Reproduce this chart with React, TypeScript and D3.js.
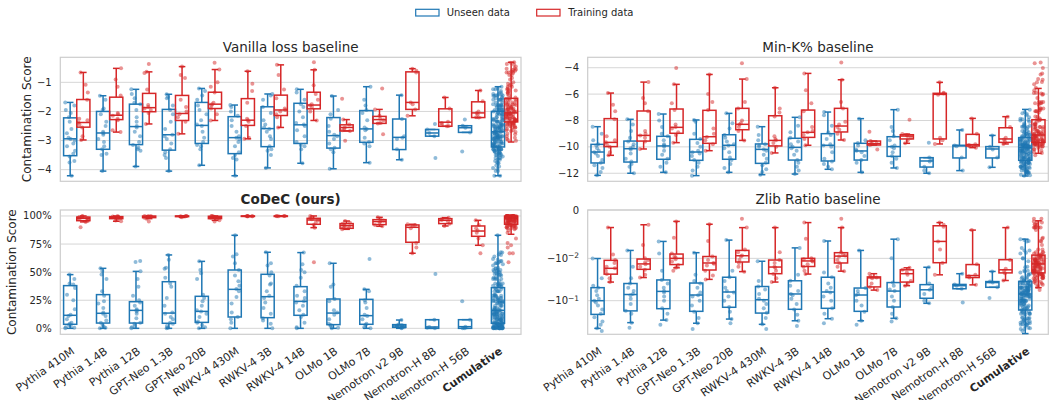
import React from 'react';
import * as d3 from 'd3';

const MODELS = [
  'Pythia 410M', 'Pythia 1.4B', 'Pythia 12B', 'GPT-Neo 1.3B', 'GPT-Neo 20B',
  'RWKV-4 430M', 'RWKV-4 3B', 'RWKV-4 14B', 'OLMo 1B', 'OLMo 7B',
  'Nemotron v2 9B', 'Nemotron-H 8B', 'Nemotron-H 56B',
];
const CATEGORIES = [...MODELS, 'Cumulative'];

const BLUE = '#1f77b4';
const RED = '#d62728';
const FONT = 'DejaVu Sans, Verdana, sans-serif';

// box stats per category: [lower whisker, q1, median, q3, upper whisker]
const vanillaUnseenStats = [
  [-4.21, -3.52, -2.94, -2.22, -1.69], [-4.05, -3.3, -2.74, -2.0, -1.46], [-3.89, -3.14, -2.52, -1.75, -1.24],
  [-4.05, -3.33, -2.8, -1.93, -1.41], [-3.85, -3.1, -2.48, -1.69, -1.21], [-4.21, -3.45, -2.9, -2.18, -1.78],
  [-3.94, -3.21, -2.59, -1.84, -1.4], [-3.78, -3.1, -2.46, -1.72, -1.24], [-3.97, -3.26, -2.83, -2.21, -1.47],
  [-3.76, -3.06, -2.6, -1.97, -1.15], [-3.66, -3.31, -2.89, -2.26, -1.44], [-2.85, -2.85, -2.74, -2.62, -2.62],
  [-2.72, -2.72, -2.56, -2.49, -2.49], [-4.21, -3.22, -2.7, -2.0, -1.15],
];
const vanillaTrainStats = [
  [-2.98, -2.54, -2.38, -1.59, -0.66], [-2.71, -2.28, -2.13, -1.51, -0.52], [-2.43, -2.01, -1.87, -1.38, -0.64],
  [-2.77, -2.31, -2.07, -1.45, -0.46], [-2.31, -1.9, -1.75, -1.34, -0.56], [-2.94, -2.48, -2.3, -1.56, -0.62],
  [-2.55, -2.14, -1.95, -1.44, -0.4], [-2.31, -1.91, -1.78, -1.34, -0.57], [-2.67, -2.67, -2.55, -2.46, -2.28],
  [-2.41, -2.41, -2.28, -2.17, -1.93], [-2.15, -1.93, -1.69, -0.64, -0.53], [-2.51, -2.51, -2.37, -1.91, -1.52],
  [-2.21, -2.21, -2.05, -1.67, -1.28], [-3.05, -2.36, -2.05, -1.55, -0.31],
];
const vanillaUnseenPts = [
  [-1.69, -1.8, -1.95, -2.05, -2.2, -2.35, -2.6, -2.75, -2.9, -2.95, -3.0, -3.1, -3.2, -3.35, -3.45, -3.55, -3.7, -3.75, -4.21],
  [-1.46, -1.6, -1.9, -1.95, -2.1, -2.35, -2.5, -2.7, -2.75, -2.8, -2.95, -3.05, -3.2, -3.3, -3.45, -3.5, -4.05],
  [-1.24, -1.4, -1.55, -1.7, -1.75, -1.95, -2.2, -2.35, -2.5, -2.55, -2.7, -2.85, -3.05, -3.15, -3.25, -3.3, -3.35, -3.89],
  [-1.41, -1.5, -1.55, -1.8, -1.95, -2.1, -2.35, -2.6, -2.8, -2.85, -2.95, -3.1, -3.3, -3.4, -3.5, -3.6, -4.05],
  [-1.21, -1.3, -1.45, -1.6, -1.8, -1.95, -2.1, -2.3, -2.45, -2.5, -2.7, -2.9, -3.05, -3.15, -3.2, -3.3, -3.85],
  [-1.78, -1.85, -2.0, -2.15, -2.3, -2.5, -2.7, -2.85, -2.9, -2.95, -3.05, -3.2, -3.4, -3.5, -3.6, -3.65, -4.21],
  [-1.4, -1.45, -1.6, -1.85, -2.05, -2.3, -2.45, -2.55, -2.6, -2.7, -2.85, -2.95, -3.2, -3.3, -3.35, -3.5, -3.94],
  [-1.24, -1.35, -1.6, -1.75, -1.85, -2.0, -2.2, -2.4, -2.45, -2.5, -2.65, -2.85, -3.05, -3.15, -3.2, -3.3, -3.78],
  [-1.47, -1.95, -2.1, -2.25, -2.5, -2.7, -2.8, -2.85, -2.95, -3.1, -3.25, -3.3, -3.4, -3.97],
  [-1.15, -1.6, -1.8, -1.95, -2.05, -2.3, -2.55, -2.6, -2.65, -2.9, -3.05, -3.1, -3.2, -3.76],
  [-1.44, -2.26, -2.85, -2.9, -2.95, -3.3, -3.66],
  [-2.43, -2.62, -2.74, -2.85, -3.6],
  [-2.28, -2.49, -2.56, -2.72, -3.38],
];
const vanillaTrainPts = [
  [-0.66, -1.08, -1.35, -1.6, -2.25, -2.3, -2.38, -2.45, -2.55, -2.85, -2.98],
  [-0.52, -0.9, -1.15, -1.45, -2.05, -2.1, -2.15, -2.25, -2.3, -2.65, -2.71],
  [-0.37, -0.64, -0.68, -1.25, -1.78, -1.85, -1.9, -1.95, -2.05, -2.43],
  [-0.46, -0.75, -0.85, -1.6, -1.85, -2.0, -2.1, -2.2, -2.35, -2.77],
  [-0.33, -0.56, -1.0, -1.15, -1.35, -1.7, -1.75, -1.8, -1.9, -2.1, -2.31],
  [-0.62, -1.05, -1.3, -1.7, -2.25, -2.3, -2.35, -2.5, -2.9, -2.94],
  [-0.4, -0.75, -1.25, -1.55, -1.9, -1.95, -2.0, -2.1, -2.2, -2.55],
  [-0.31, -0.57, -1.1, -1.4, -1.6, -1.75, -1.8, -1.85, -2.0, -2.31],
  [-1.56, -2.28, -2.45, -2.55, -2.6, -2.65, -2.67, -3.01],
  [-1.21, -1.93, -2.15, -2.25, -2.3, -2.4, -2.41, -2.78],
  [-0.53, -0.6, -0.66, -1.69, -1.75, -1.93, -2.15],
  [-1.52, -1.9, -2.35, -2.4, -2.45, -2.5, -2.51],
  [-1.28, -1.65, -2.0, -2.05, -2.1, -2.2, -2.21],
];

const codecUnseenStats = [
  [0, 3.6, 11.6, 38.0, 47.8], [0, 4.7, 13.4, 30.0, 53.4], [0, 4.7, 16.0, 23.7, 50.7], [0, 4.5, 13.6, 41.5, 65.3],
  [0, 5.3, 15.1, 28.5, 59.6], [0, 10.1, 34.7, 51.9, 82.8], [0, 9.5, 28.2, 48.1, 67.7], [0, 11.6, 24.0, 37.1, 67.4],
  [0, 3.3, 13.6, 26.1, 57.9], [0, 3.6, 11.3, 25.8, 34.7], [0, 0.9, 2.1, 3.3, 7.4], [0, 0, 1.2, 7.7, 7.7],
  [0, 0, 1.5, 7.7, 7.7], [0, 4.5, 16.0, 36.2, 82.8],
];
const codecTrainStats = [
  [94.7, 95.8, 97.9, 99.0, 100], [95.3, 97.6, 98.5, 99.4, 100], [97.6, 98.5, 99.4, 99.9, 100], [98.8, 99.4, 99.7, 100, 100],
  [96.1, 97.6, 98.8, 99.7, 100], [99.5, 99.7, 99.8, 100, 100], [99.7, 99.8, 99.9, 100, 100], [89.6, 92.6, 96.4, 97.9, 100],
  [88.1, 89.0, 91.4, 93.2, 95.5], [90.8, 92.3, 95.0, 96.7, 98.8], [66.8, 76.6, 89.9, 92.0, 92.6], [91.1, 93.2, 96.1, 97.6, 98.5],
  [73.9, 81.9, 86.6, 91.1, 96.1], [83.7, 92.6, 97.9, 99.9, 100],
];
const codecUnseenPts = [
  [0, 0.5, 1, 2, 3, 4, 5, 8, 11, 12, 17, 25, 30, 36, 39, 40, 44, 47.8],
  [0, 0.5, 1.5, 3, 5, 7, 11, 13, 14, 18, 22, 24, 29, 33, 44, 48, 51, 53.4],
  [0, 1, 2, 4, 5, 9, 13, 15, 16, 17, 20, 23, 25, 29, 37, 44, 50.7, 59, 60],
  [0, 0.5, 2, 4, 5, 8, 10, 13, 14, 20, 27, 37, 40, 45, 53, 54, 61, 65.3],
  [0, 1, 3, 5, 6, 10, 13, 15, 16, 20, 24, 27, 30, 44, 49, 52, 59.6],
  [0, 5, 8, 10, 14, 22, 28, 33, 35, 38, 42, 47, 52, 58, 64, 66, 82.8],
  [0, 4, 7, 9, 13, 18, 23, 27, 29, 33, 39, 40, 47, 50, 56, 58, 67.7],
  [0, 1, 5, 10, 12, 16, 20, 23, 24, 27, 29, 33, 38, 45, 50, 52, 57, 67.4],
  [0, 0.5, 2, 3, 4, 8, 12, 14, 16, 24, 26, 37, 39, 57.9],
  [0, 1, 3, 4, 8, 11, 12, 18, 23, 25, 33, 34.7, 61.7],
  [0, 0.5, 1, 1.5, 2, 2.5, 3, 3.5, 7.4],
  [0, 0.5, 1.2, 7.7, 48.4],
  [0, 0, 1.5, 7.7, 24],
];
const codecTrainPts = [
  [89.9, 94.7, 95.5, 96, 97, 98, 98.5, 99, 99.5, 100],
  [95.3, 96, 97.5, 98, 98.5, 99, 99.5, 100],
  [95, 97.6, 98.5, 99, 99.5, 99.8, 100, 100],
  [98.8, 99.3, 99.6, 99.8, 100, 100],
  [95, 96.1, 97.5, 98.5, 99, 99.5, 100, 100],
  [99.5, 99.7, 99.8, 99.9, 100, 100],
  [99.7, 99.8, 99.9, 100, 100],
  [58.8, 89.6, 92, 94, 96, 97, 98, 99, 100],
  [88.1, 89, 90, 91, 92, 93, 94, 95.5],
  [90.8, 92, 94, 95, 96, 97.5, 98.8],
  [66.8, 72, 76, 89, 91, 92, 92.6],
  [91.1, 93, 95, 96.5, 97.5, 98.5],
  [66.8, 73.9, 80, 85, 87, 89, 92, 96.1],
];

const minkUnseenStats = [
  [-12.16, -11.22, -10.39, -9.81, -8.47], [-12.0, -11.15, -10.14, -9.56, -7.91], [-11.93, -10.94, -9.93, -9.2, -7.51],
  [-12.18, -11.02, -10.39, -9.43, -7.96], [-11.93, -10.94, -9.88, -9.08, -7.46], [-12.11, -11.25, -10.19, -9.78, -8.47],
  [-12.06, -11.0, -10.04, -9.35, -7.76], [-11.7, -11.07, -9.88, -9.0, -7.36], [-11.93, -11.0, -10.31, -9.73, -7.86],
  [-11.6, -10.72, -9.98, -9.23, -7.18], [-12.0, -11.53, -11.07, -10.82, -10.82], [-11.8, -10.84, -9.93, -9.88, -8.72],
  [-11.55, -10.84, -10.16, -9.98, -9.13], [-12.21, -11.02, -10.06, -9.3, -7.16],
];
const minkTrainStats = [
  [-10.64, -9.98, -9.66, -7.86, -5.92], [-10.16, -9.56, -9.13, -7.28, -5.09], [-9.68, -8.97, -8.52, -7.13, -5.26],
  [-10.29, -9.73, -9.23, -7.23, -4.51], [-9.51, -8.7, -8.29, -7.08, -4.86], [-10.46, -9.93, -9.51, -7.64, -5.52],
  [-9.88, -9.28, -8.9, -7.21, -4.43], [-9.48, -8.87, -8.42, -7.08, -4.91], [-9.86, -9.86, -9.76, -9.56, -9.56],
  [-9.73, -9.4, -9.18, -9.08, -9.03], [-9.78, -9.4, -6.02, -5.94, -5.11], [-10.06, -9.93, -9.83, -9.05, -7.84],
  [-9.78, -9.66, -9.4, -8.55, -7.71], [-10.49, -9.66, -9.1, -7.94, -5.57],
];
const minkUnseenPts = [
  [-8.47, -9.0, -9.5, -9.8, -9.9, -10.1, -10.3, -10.4, -10.5, -10.7, -11.0, -11.2, -11.4, -11.6, -11.9, -12.16],
  [-7.91, -8.3, -8.8, -9.3, -9.6, -9.8, -10.0, -10.1, -10.2, -10.5, -10.9, -11.1, -11.3, -11.5, -12.0],
  [-7.51, -8.0, -8.5, -9.0, -9.2, -9.5, -9.8, -9.9, -10.0, -10.3, -10.6, -10.9, -11.2, -11.5, -11.93],
  [-7.96, -8.1, -9.0, -9.4, -9.7, -10.0, -10.3, -10.4, -10.5, -10.7, -11.0, -11.2, -11.5, -11.8, -12.18],
  [-7.46, -8.2, -8.6, -9.1, -9.3, -9.6, -9.8, -9.9, -10.1, -10.4, -10.8, -11.0, -11.3, -11.6, -11.93],
  [-8.47, -9.1, -9.5, -9.8, -9.9, -10.0, -10.2, -10.3, -10.6, -10.9, -11.2, -11.4, -11.7, -11.9, -12.11],
  [-7.76, -8.4, -8.9, -9.3, -9.6, -9.8, -10.0, -10.1, -10.3, -10.6, -11.0, -11.2, -11.5, -11.8, -12.06],
  [-7.36, -7.6, -8.4, -8.9, -9.1, -9.4, -9.8, -9.9, -10.0, -10.4, -10.9, -11.1, -11.3, -11.5, -11.7],
  [-7.86, -9.5, -9.7, -9.9, -10.2, -10.3, -10.4, -10.7, -11.0, -11.2, -11.93],
  [-7.18, -8.5, -8.8, -9.2, -9.5, -9.9, -10.0, -10.1, -10.4, -10.7, -10.9, -11.2, -11.6],
  [-9.68, -10.8, -10.9, -11.1, -11.5, -11.8, -12.0],
  [-8.72, -9.9, -9.95, -10.8, -11.8],
  [-9.13, -10.0, -10.2, -10.8, -11.55],
];
const minkTrainPts = [
  [-5.92, -6.8, -7.3, -7.9, -9.2, -9.5, -9.65, -9.8, -10.0, -10.4, -10.64],
  [-5.09, -6.3, -6.7, -7.3, -8.8, -9.0, -9.13, -9.3, -9.6, -10.16],
  [-4.02, -5.26, -6.7, -7.2, -8.3, -8.5, -8.6, -8.9, -9.1, -9.68],
  [-4.51, -6.0, -6.6, -7.2, -8.6, -9.0, -9.25, -9.5, -9.8, -10.29],
  [-3.66, -4.86, -6.6, -7.1, -8.0, -8.2, -8.3, -8.5, -8.8, -9.51],
  [-5.52, -7.1, -7.4, -7.7, -9.2, -9.4, -9.5, -9.7, -10.0, -10.46],
  [-4.43, -5.7, -6.7, -7.3, -8.5, -8.8, -8.9, -9.1, -9.4, -9.88],
  [-3.6, -4.91, -6.6, -7.1, -8.1, -8.3, -8.5, -8.7, -9.0, -9.48],
  [-8.85, -9.56, -9.7, -9.76, -9.8, -9.86, -10.19],
  [-7.94, -9.03, -9.1, -9.18, -9.3, -9.5, -9.73],
  [-5.11, -5.9, -5.95, -6.05, -9.3, -9.5, -9.78],
  [-7.84, -9.0, -9.8, -9.85, -9.95, -10.06],
  [-7.71, -8.5, -9.3, -9.45, -9.6, -9.78],
];

const zlibUnseenStats = [
  [-0.433, -0.207, -0.1, -0.05, -0.0101], [-0.32, -0.172, -0.072, -0.04, -0.0063], [-0.28, -0.153, -0.061, -0.033, -0.0036],
  [-0.33, -0.176, -0.074, -0.039, -0.0072], [-0.265, -0.142, -0.063, -0.0285, -0.0033], [-0.35, -0.193, -0.095, -0.047, -0.0118],
  [-0.29, -0.158, -0.07, -0.0345, -0.0054], [-0.26, -0.15, -0.063, -0.0285, -0.0035], [-0.29, -0.176, -0.074, -0.051, -0.0063],
  [-0.255, -0.14, -0.06, -0.038, -0.0031], [-0.115, -0.088, -0.056, -0.0425, -0.0165], [-0.053, -0.053, -0.045, -0.042, -0.0235],
  [-0.049, -0.049, -0.038, -0.036, -0.0208], [-0.57, -0.164, -0.07, -0.0356, -0.0031],
];
const zlibTrainStats = [
  [-0.037, -0.0241, -0.0175, -0.0112, -0.00129], [-0.029, -0.0185, -0.0137, -0.0104, -0.001], [-0.017, -0.0142, -0.01, -0.0078, -0.0007],
  [-0.032, -0.0192, -0.013, -0.009, -0.00095], [-0.021, -0.0123, -0.0086, -0.0063, -0.0013], [-0.037, -0.0235, -0.0163, -0.011, -0.0013],
  [-0.024, -0.0158, -0.0116, -0.01, -0.0008], [-0.0205, -0.013, -0.0088, -0.0072, -0.0013], [-0.057, -0.048, -0.0295, -0.028, -0.0235],
  [-0.045, -0.037, -0.0235, -0.019, -0.017], [-0.025, -0.0128, -0.0036, -0.0011, -0.0008], [-0.043, -0.029, -0.026, -0.0142, -0.0016],
  [-0.034, -0.0225, -0.019, -0.0108, -0.0013], [-0.05, -0.0225, -0.0137, -0.0083, -0.00065],
];
const zlibUnseenPts = [
  [-0.0101, -0.03, -0.045, -0.05, -0.06, -0.075, -0.09, -0.1, -0.11, -0.13, -0.16, -0.2, -0.24, -0.3, -0.36, -0.433, -0.5],
  [-0.0063, -0.016, -0.03, -0.04, -0.05, -0.06, -0.07, -0.075, -0.09, -0.12, -0.17, -0.2, -0.32, -0.42],
  [-0.0036, -0.0075, -0.02, -0.033, -0.04, -0.05, -0.06, -0.065, -0.08, -0.1, -0.15, -0.2, -0.28, -0.36],
  [-0.0072, -0.025, -0.035, -0.04, -0.05, -0.065, -0.075, -0.08, -0.1, -0.13, -0.18, -0.25, -0.33, -0.45],
  [-0.0033, -0.02, -0.0285, -0.035, -0.05, -0.06, -0.065, -0.08, -0.1, -0.14, -0.18, -0.265, -0.33],
  [-0.0118, -0.035, -0.047, -0.055, -0.07, -0.09, -0.1, -0.12, -0.15, -0.19, -0.25, -0.35, -0.45],
  [-0.0054, -0.025, -0.0345, -0.045, -0.06, -0.07, -0.075, -0.09, -0.12, -0.16, -0.21, -0.29, -0.38],
  [-0.0035, -0.022, -0.0285, -0.04, -0.05, -0.06, -0.065, -0.08, -0.1, -0.15, -0.2, -0.26, -0.33],
  [-0.0063, -0.051, -0.06, -0.07, -0.075, -0.1, -0.13, -0.18, -0.29, -0.36],
  [-0.0031, -0.01, -0.038, -0.045, -0.055, -0.06, -0.08, -0.1, -0.14, -0.2, -0.255, -0.3],
  [-0.0165, -0.04, -0.05, -0.056, -0.07, -0.1, -0.115],
  [-0.0235, -0.042, -0.045, -0.053, -0.11],
  [-0.0208, -0.036, -0.038, -0.049, -0.087],
];
const zlibTrainPts = [
  [-0.00129, -0.008, -0.011, -0.013, -0.016, -0.0175, -0.02, -0.024, -0.03, -0.037],
  [-0.001, -0.0045, -0.01, -0.011, -0.0125, -0.014, -0.016, -0.019, -0.025, -0.029],
  [-0.0007, -0.0028, -0.0075, -0.009, -0.0095, -0.0105, -0.012, -0.0145, -0.017, -0.02],
  [-0.00095, -0.0035, -0.009, -0.011, -0.013, -0.0135, -0.015, -0.02, -0.026, -0.032],
  [-0.0005, -0.0013, -0.006, -0.007, -0.0085, -0.009, -0.011, -0.013, -0.016, -0.021],
  [-0.0013, -0.007, -0.011, -0.013, -0.016, -0.017, -0.02, -0.024, -0.03, -0.037],
  [-0.0008, -0.003, -0.01, -0.0105, -0.0115, -0.012, -0.014, -0.016, -0.02, -0.024],
  [-0.0005, -0.0013, -0.007, -0.008, -0.0085, -0.009, -0.011, -0.013, -0.016, -0.0205],
  [-0.0235, -0.027, -0.029, -0.03, -0.04, -0.048, -0.057],
  [-0.017, -0.019, -0.022, -0.025, -0.035, -0.04, -0.045],
  [-0.0008, -0.001, -0.0012, -0.0036, -0.006, -0.013, -0.025],
  [-0.0016, -0.014, -0.025, -0.027, -0.029, -0.043],
  [-0.0013, -0.011, -0.018, -0.02, -0.023, -0.034],
];

const vanillaTicks = [-1, -2, -3, -4];
const codecTicks = [0, 25, 50, 75, 100];
const minkTicks = [-4, -6, -8, -10, -12];
const zlibTicks = [0, -0.01, -0.1];

const minus = (v: number) => (v < 0 ? '\u2212' + Math.abs(v) : String(v));

// deterministic horizontal jitter (layout only)
const jit = (i: number, k: number, s: number) => {
  const h = Math.sin(k * 12.9898 + i * 78.233 + s * 37.719) * 43758.5453;
  return h - Math.floor(h) - 0.5;
};

const LEFT = { x0: 60.3, x1: 521 };
const RIGHT = { x0: 587.7, x1: 1048.3 };
const TOP = { y0: 57.3, y1: 181.3 };
const BOTTOM = { y0: 210, y1: 334.3 };

type PanelDef = {
  title: string; bold?: boolean;
  x0: number; x1: number; y0: number; y1: number;
  y: any; ticks: number[]; label: (v: number) => React.ReactNode;
  uStats: number[][]; tStats: number[][]; uPts: number[][]; tPts: number[][];
  xLabels?: boolean; yTitleX?: number;
};

const Panel = ({ p }: { p: PanelDef }) => {
  const x = d3.scaleBand<string>().domain(CATEGORIES).range([p.x0, p.x1]);
  const bw = x.bandwidth();
  const boxW = bw * 0.4;
  const series = [
    { stats: p.uStats, pts: [...p.uPts, p.uPts.flat()], color: BLUE, off: -bw * 0.2, s: 0 },
    { stats: p.tStats, pts: [...p.tPts, p.tPts.flat()], color: RED, off: bw * 0.2, s: 1 },
  ];
  const cy = (p.y0 + p.y1) / 2;
  return (
    <g>
      <text x={(p.x0 + p.x1) / 2} y={p.y0 - 5.8} textAnchor="middle" fontSize={13.5}
        fontWeight={p.bold ? 'bold' : 'normal'} fill="#262626">{p.title}</text>
      {p.ticks.map((t) => (
        <g key={t}>
          <line x1={p.x0} x2={p.x1} y1={p.y(t)} y2={p.y(t)} stroke="#d6d6d6" strokeWidth={1} />
          <text x={p.x0 - 8.6} y={p.y(t)} dy="0.35em" textAnchor="end" fontSize={10} fill="#262626">{p.label(t)}</text>
        </g>
      ))}
      <rect x={p.x0} y={p.y0} width={p.x1 - p.x0} height={p.y1 - p.y0} fill="none" stroke="#cccccc" strokeWidth={1.2} />
      {p.yTitleX !== undefined && (
        <text transform={`translate(${p.yTitleX},${cy}) rotate(-90)`} dy="0.35em" textAnchor="middle" fontSize={12} fill="#262626">
          Contamination Score
        </text>
      )}
      {series.map((se) => CATEGORIES.map((c, i) => {
        const [lo, q1, med, q3, hi] = se.stats[i];
        const cx = (x(c) as number) + bw / 2 + se.off;
        return (
          <g key={`${se.s}-${c}`} stroke={se.color} strokeWidth={1.5} fill="none">
            <line x1={cx} x2={cx} y1={p.y(q3)} y2={p.y(hi)} />
            <line x1={cx} x2={cx} y1={p.y(q1)} y2={p.y(lo)} />
            <line x1={cx - boxW / 4} x2={cx + boxW / 4} y1={p.y(hi)} y2={p.y(hi)} />
            <line x1={cx - boxW / 4} x2={cx + boxW / 4} y1={p.y(lo)} y2={p.y(lo)} />
            <rect x={cx - boxW / 2} y={p.y(q3)} width={boxW} height={Math.max(0.5, p.y(q1) - p.y(q3))} />
            <line x1={cx - boxW / 2} x2={cx + boxW / 2} y1={p.y(med)} y2={p.y(med)} />
          </g>
        );
      }))}
      {series.map((se) => CATEGORIES.map((c, i) => {
        const cx = (x(c) as number) + bw / 2 + se.off;
        return (
          <g key={`p${se.s}-${c}`} fill={se.color} fillOpacity={0.5}>
            {se.pts[i].map((v, k) => (
              <circle key={k} cx={cx + jit(i, k, se.s) * bw * 0.3} cy={p.y(v)} r={2} />
            ))}
          </g>
        );
      }))}
      {p.xLabels && CATEGORIES.map((c) => {
        const tx = (x(c) as number) + bw / 2 - 1.5;
        const ty = p.y1 + 18.5;
        return (
          <text key={c} transform={`translate(${tx},${ty}) rotate(-35)`} textAnchor="end" fontSize={11}
            fontWeight={c === 'Cumulative' ? 'bold' : 'normal'} fill="#262626">{c}</text>
        );
      })}
    </g>
  );
};

const zlibLabel = (v: number) => {
  if (v === 0) return '0';
  const e = Math.round(Math.log10(Math.abs(v)));
  return (
    <>
      {'\u221210'}
      <tspan dy="-0.45em" fontSize={7.5}>{'\u2212' + Math.abs(e)}</tspan>
    </>
  );
};

export default function App() {
  const panels: PanelDef[] = [
    {
      title: 'Vanilla loss baseline', ...LEFT, ...TOP,
      y: d3.scaleLinear().domain([-4.4, -0.14]).range([TOP.y1, TOP.y0]),
      ticks: vanillaTicks, label: minus,
      uStats: vanillaUnseenStats, tStats: vanillaTrainStats, uPts: vanillaUnseenPts, tPts: vanillaTrainPts, yTitleX: 26.7,
    },
    {
      title: 'Min-K% baseline', ...RIGHT, ...TOP,
      y: d3.scaleLinear().domain([-12.61, -3.21]).range([TOP.y1, TOP.y0]),
      ticks: minkTicks, label: minus,
      uStats: minkUnseenStats, tStats: minkTrainStats, uPts: minkUnseenPts, tPts: minkTrainPts,
    },
    {
      title: 'CoDeC (ours)', bold: true, ...LEFT, ...BOTTOM,
      y: d3.scaleLinear().domain([-5.3, 105.3]).range([BOTTOM.y1, BOTTOM.y0]),
      ticks: codecTicks, label: (v: number) => `${v}%`,
      uStats: codecUnseenStats, tStats: codecTrainStats, uPts: codecUnseenPts, tPts: codecTrainPts,
      xLabels: true, yTitleX: 12,
    },
    {
      title: 'Zlib Ratio baseline', ...RIGHT, ...BOTTOM,
      y: d3.scaleSymlog().constant(0.00085).domain([-0.592, 0]).range([BOTTOM.y1, BOTTOM.y0]),
      ticks: zlibTicks, label: zlibLabel,
      uStats: zlibUnseenStats, tStats: zlibTrainStats, uPts: zlibUnseenPts, tPts: zlibTrainPts,
      xLabels: true,
    },
  ];
  return (
    <svg width={1049} height={400} style={{ position: 'absolute', left: 0, top: 0, background: '#fff' }}
      fontFamily={FONT}>
      <g fontSize={10} fill="#262626">
        <rect x={415.7} y={9.3} width={23.3} height={6.7} fill="none" stroke={BLUE} strokeWidth={1.2} />
        <text x={446.7} y={12.7} dy="0.35em">Unseen data</text>
        <rect x={536.7} y={9.3} width={23.3} height={6.7} fill="none" stroke={RED} strokeWidth={1.2} />
        <text x={568.3} y={12.7} dy="0.35em">Training data</text>
      </g>
      {panels.map((p) => <Panel key={p.title} p={p} />)}
    </svg>
  );
}
